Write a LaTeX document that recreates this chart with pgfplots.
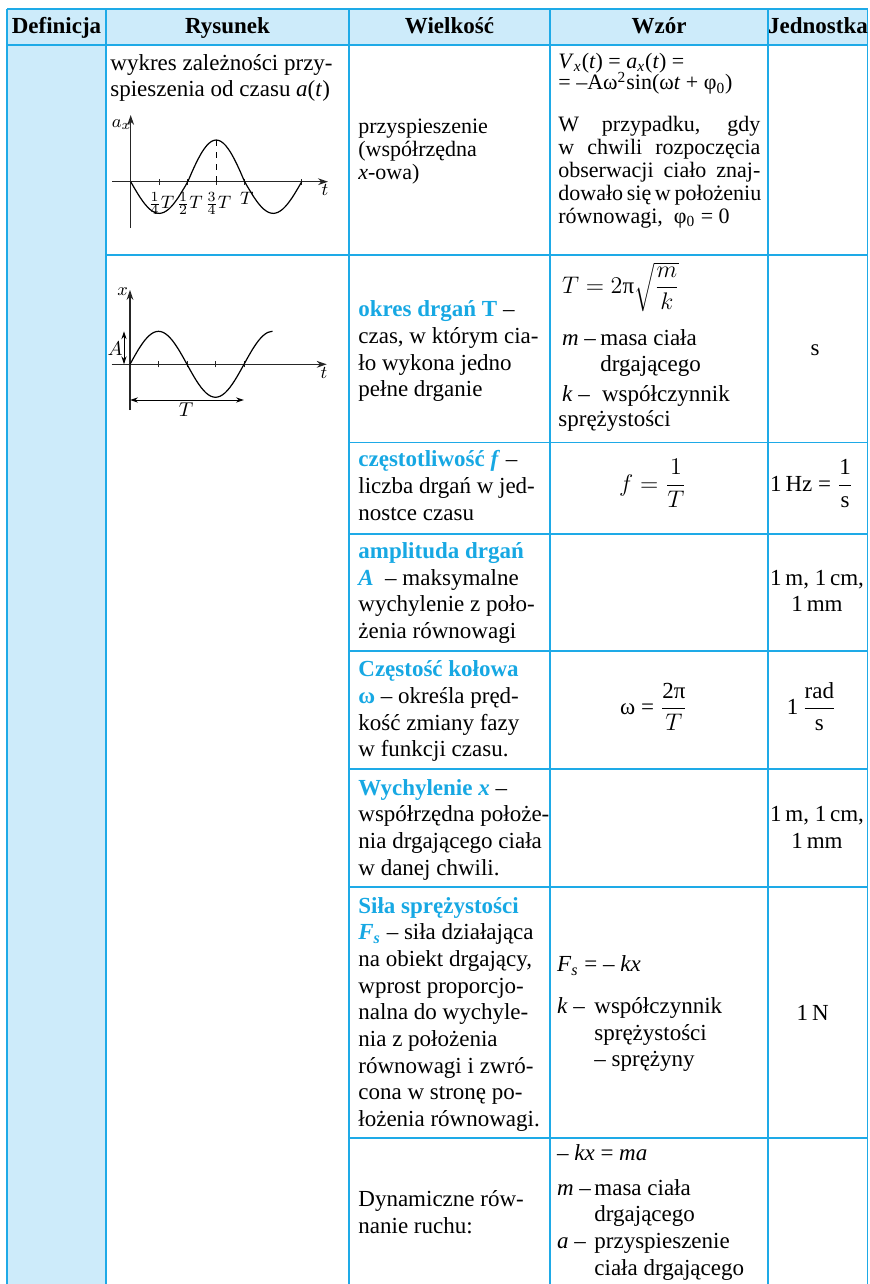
\documentclass[border=0pt]{standalone}
\usepackage{fontspec}
\setmainfont{Liberation Serif}
\usepackage{pgfplots}
\pgfplotsset{compat=1.18}
\usetikzlibrary{arrows.meta}

\definecolor{tblLine}{HTML}{1EAAE7}
\definecolor{tblFill}{HTML}{CDEBFA}
\definecolor{hl}{HTML}{17A8E3}

\newcommand{\hb}[1]{\textcolor{hl}{\bfseries #1}}
\newcommand{\Ln}[3]{\node[tx] at (#1,#2) {#3};}
\newcommand{\Lc}[3]{\node[tx,anchor=base] at (#1,#2) {#3};}

\pgfplotsset{osc/.style={
    x=0.5pt, y=0.5pt, anchor=origin,
    axis lines=middle, enlargelimits=false, clip=false,
    axis line style={black!85, line width=0.6pt, -{Stealth[length=5pt,width=3.4pt]}},
    ytick=\empty,
    tick style={black!85, line width=0.5pt}, major tick length=3pt, tick align=center,
    xticklabel style={font=\fontsize{9.5}{10}\selectfont, inner sep=1pt, yshift=-2.5pt, xshift=1pt},
  }}

\begin{document}
\begin{tikzpicture}[x=0.5pt, y=-0.5pt,
    tx/.style={anchor=base west, inner sep=0pt, font=\fontsize{11.5}{13}\selectfont}]
  \useasboundingbox (0,0) rectangle (869,1284);

  % fills
  \fill[tblFill] (7,9) rectangle (868,45);
  \fill[tblFill] (7,45) rectangle (106,1284);

  % grid
  \begin{scope}[tblLine, line width=0.75pt]
    \draw (7,9) -- (867.5,9);
    \draw (7,45) -- (867.5,45);
    \foreach \xx in {7,106,349,550,768,867.5} \draw (\xx,9) -- (\xx,1284);
    \draw (106,255) -- (867.5,255);
    \foreach \yy in {442.5,534,651,769,887,1138} \draw (349,\yy) -- (867.5,\yy);
  \end{scope}

  % header
  \begin{scope}[every node/.style={anchor=base, inner sep=0pt, font=\fontsize{11.5}{13}\bfseries\selectfont}]
    \node at (56.5,33.3) {Definicja};
    \node at (227.5,33.3) {Rysunek};
    \node at (449.5,33.3) {Wielkość};
    \node at (659,33.3) {Wzór};
    \node at (818,33.3) {Jednostka};
  \end{scope}

  % ---- row 1: acceleration
  \Ln{110}{70.7}{wykres zależności przy-}
  \Ln{110}{96.7}{spieszenia od czasu \textit{a}(\textit{t})}

  \begin{scope}[tx/.append style={font=\fontsize{11}{12}\selectfont}]
    \Ln{358}{133.3}{przyspieszenie}
    \Ln{358}{156.2}{(współrzędna}
    \Ln{358}{179}{\textit{x}-owa)}

    \Ln{558}{68.3}{\textit{V}\textsubscript{\textit{x}}(\textit{t}) = \textit{a}\textsubscript{\textit{x}}(\textit{t}) =}
    \Ln{558}{90}{= –Aω\textsuperscript{2}sin(ω\textit{t} + φ\textsubscript{0})}
    \Ln{558}{131.7}{\makebox[101pt][s]{W przypadku, gdy}}
    \Ln{558}{154.7}{\makebox[101pt][s]{w chwili rozpoczęcia}}
    \Ln{558}{177.5}{\makebox[101pt][s]{obserwacji ciało znaj-}}
    \Ln{558}{200.3}{\makebox[101pt][s]{dowało się w położeniu}}
    \Ln{558}{223.3}{równowagi, \ φ\textsubscript{0} = 0}
  \end{scope}

  % origin at pixel (130.7,181.7)
  \begin{axis}[osc, at={(65.35pt,-90.85pt)},
      xmin=-18.7, xmax=197.3, ymin=-46.3, ymax=66.7,
      xtick={28.5,57,85.5,114},
      xticklabels={$\frac{1}{4}T$,$\frac{1}{2}T$,$\frac{3}{4}T$,$T$},
      extra x ticks={171}, extra x tick labels={}]
    \addplot[black, line width=0.6pt, smooth] coordinates {
      (0,0) (4.75,-8.2) (9.5,-15.85) (14.25,-22.4) (19,-27.45) (23.75,-30.6)
      (28.5,-31.7) (33.25,-30.6) (38,-27.45) (42.75,-22.4) (47.5,-15.85) (52.25,-8.2)
      (57,0) (61.75,10.8) (66.5,20.85) (71.25,29.5) (76,36.1) (80.75,40.3)
      (85.5,41.7) (90.25,40.3) (95,36.1) (99.75,29.5) (104.5,20.85) (109.25,10.8)
      (114,0) (118.75,-8.2) (123.5,-15.85) (128.25,-22.4) (133,-27.45) (137.75,-30.6)
      (142.5,-31.7) (147.25,-30.6) (152,-27.45) (156.75,-22.4) (161.5,-15.85) (166.25,-8.2)
      (171,0)};
    \addplot[black, line width=0.5pt, dashed] coordinates {(85.5,0) (85.5,41.7)};
    \node[font=\fontsize{9.5}{10}\selectfont] at (axis cs:-9,56.7) {$a_x$};
    \node[font=\fontsize{9.5}{10}\selectfont] at (axis cs:194.3,-8.3) {$t$};
  \end{axis}

  % ---- row 2: period, origin at pixel (130,364.3)
  \begin{axis}[osc, at={(65pt,-182.15pt)},
      xmin=-18.3, xmax=196.7, ymin=-45.7, ymax=74.3,
      xtick={28.5,57,85.5,114}, xticklabels={,,,}]
    \addplot[black, line width=0.6pt, smooth] coordinates {
      (0,0) (4.75,8.54) (9.5,16.5) (14.25,23.33) (19,28.58) (23.75,31.87)
      (28.5,33) (33.25,31.87) (38,28.58) (42.75,23.33) (47.5,16.5) (52.25,8.54)
      (57,0) (61.75,-8.54) (66.5,-16.5) (71.25,-23.33) (76,-28.58) (80.75,-31.87)
      (85.5,-33) (90.25,-31.87) (95,-28.58) (99.75,-23.33) (104.5,-16.5) (109.25,-8.54)
      (114,0) (118.75,8.54) (123.5,16.5) (128.25,23.33) (133,28.58) (137.75,31.87)
      (142.5,33)};
    \addplot[black, line width=0.5pt, arrows={Stealth[length=4pt,width=2.6pt]-Stealth[length=4pt,width=2.6pt]}]
      coordinates {(-6,0) (-6,33)};
    \addplot[black, line width=0.5pt, arrows={Stealth[length=4pt,width=2.6pt]-Stealth[length=4pt,width=2.6pt]}]
      coordinates {(0,-35.7) (114,-35.7)};
    \node[font=\fontsize{10}{10}\selectfont] at (axis cs:-15,16) {$A$};
    \node[font=\fontsize{10}{10}\selectfont] at (axis cs:56,-45) {$T$};
    \node[font=\fontsize{9.5}{10}\selectfont] at (axis cs:-7.3,72.6) {$x$};
    \node[font=\fontsize{9.5}{10}\selectfont] at (axis cs:194,-9) {$t$};
  \end{axis}

  \Ln{358}{316.7}{\hb{okres drgań T} –}
  \Ln{358}{343.3}{czas, w którym cia-}
  \Ln{358}{370}{ło wykona jedno}
  \Ln{358}{396.7}{pełne drganie}

  \Ln{561.7}{293.3}{$T = 2\mbox{π}\sqrt{\displaystyle\frac{m}{k}}$}
  \Ln{561.7}{345}{\textit{m} –}
  \Ln{600}{345}{masa ciała}
  \Ln{600}{371.7}{drgającego}
  \Ln{561.7}{401.7}{\textit{k} –}
  \Ln{601.7}{401.7}{współczynnik}
  \Ln{558}{426.7}{sprężystości}
  \Lc{815}{355}{s}

  % ---- row 3: frequency
  \Ln{358}{466.7}{\hb{częstotliwość \textit{f}} –}
  \Ln{358}{493.3}{liczba drgań w jed-}
  \Ln{358}{520}{nostce czasu}
  \Lc{653}{491}{$f = \displaystyle\frac{1}{T}$}
  \Lc{811.7}{491}{1\,Hz = $\displaystyle\frac{\mbox{1}}{\mbox{s}}$}

  % ---- row 4: amplitude
  \Ln{358}{558.3}{\hb{amplituda drgań}}
  \Ln{358}{585}{\hb{\textit{A}} \ – maksymalne}
  \Ln{358}{611.7}{wychylenie z poło-}
  \Ln{358}{638.3}{żenia równowagi}
  \Lc{817}{585}{1\,m, 1\,cm,}
  \Lc{817}{611.7}{1\,mm}

  % ---- row 5: angular frequency
  \Ln{358}{676.7}{\hb{Częstość kołowa}}
  \Ln{358}{703.3}{\hb{ω} – określa pręd-}
  \Ln{358}{730}{kość zmiany fazy}
  \Ln{358}{756.7}{w funkcji czasu.}
  \Lc{654}{714.5}{ω = $\displaystyle\frac{\mbox{2π}}{T}$}
  \Lc{811.7}{714.5}{1\,$\displaystyle\frac{\mbox{rad}}{\mbox{s}}$}

  % ---- row 6: displacement
  \Ln{358}{795}{\hb{Wychylenie \textit{x}} –}
  \Ln{358}{821.7}{współrzędna położe-}
  \Ln{358}{848.3}{nia drgającego ciała}
  \Ln{358}{875}{w danej chwili.}
  \Lc{817}{821.7}{1\,m, 1\,cm,}
  \Lc{817}{848.3}{1\,mm}

  % ---- row 7: elastic force
  \Ln{358}{913}{\hb{Siła sprężystości}}
  \Ln{358}{939.7}{\hb{\textit{F}\textsubscript{\textit{s}}} – siła działająca}
  \Ln{358}{966.3}{na obiekt drgający,}
  \Ln{358}{993}{wprost proporcjo-}
  \Ln{358}{1019.7}{nalna do wychyle-}
  \Ln{358}{1046.3}{nia z położenia}
  \Ln{358}{1073}{równowagi i zwró-}
  \Ln{358}{1099.7}{cona w stronę po-}
  \Ln{358}{1126.3}{łożenia równowagi.}

  \Ln{556.7}{971.7}{\textit{F}\textsubscript{\textit{s}} = – \textit{kx}}
  \Ln{556.7}{1013.3}{\textit{k} –}
  \Ln{594}{1013.3}{współczynnik}
  \Ln{594}{1040}{sprężystości}
  \Ln{594}{1066.7}{– sprężyny}
  \Lc{812.7}{1020}{1\,N}

  % ---- row 8: equation of motion
  \Ln{358}{1206.7}{Dynamiczne rów-}
  \Ln{358}{1233.3}{nanie ruchu:}
  \Ln{556.7}{1160}{– \textit{kx} = \textit{ma}}
  \Ln{556.7}{1195}{\textit{m} –}
  \Ln{594}{1195}{masa ciała}
  \Ln{594}{1221.7}{drgającego}
  \Ln{556.7}{1248.3}{\textit{a} –}
  \Ln{594}{1248.3}{przyspieszenie}
  \Ln{594}{1275}{ciała drgającego}
\end{tikzpicture}
\end{document}
